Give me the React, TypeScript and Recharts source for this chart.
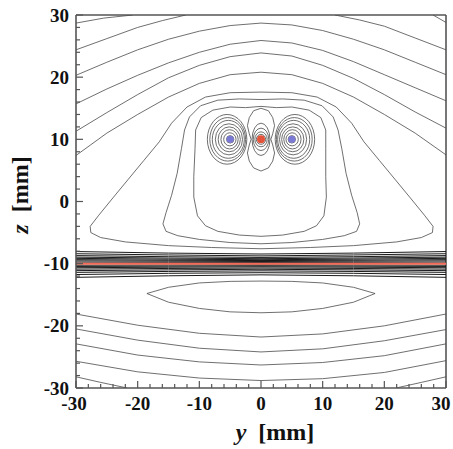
import React from 'react';
import { ComposedChart, Line, Scatter, XAxis, YAxis, ReferenceLine } from 'recharts';

type Pt = [number, number];

// axis ticks (mm), majors every 10 get labels
const axisTicks = [-30, -28, -26, -24, -22, -20, -18, -16, -14, -12, -10, -8, -6, -4, -2, 0,
  2, 4, 6, 8, 10, 12, 14, 16, 18, 20, 22, 24, 26, 28, 30];

// contours above the wires
const topLeft1: Pt[] = [[-30, 28.7], [-25.5, 29.5], [-20.8, 30]];
const topLeft2: Pt[] = [[-30, 24.4], [-25, 26.2], [-20, 28.0], [-16, 29.1], [-12.2, 30]];
const topRight2: Pt[] = [[12, 30], [16, 29.2], [20, 28.2], [25, 26.3], [30, 24.4]];
const topRight1: Pt[] = [[27.9, 30], [30, 28.8]];
const arch3: Pt[] = [[-30, 20.3], [-25, 22.4], [-20, 24.4], [-15, 26.1], [-10, 27.4], [-5, 28.3], [0, 28.7],
  [5, 28.4], [10, 27.5], [15, 26.1], [20, 24.4], [25, 22.4], [30, 20.4]];
const arch4: Pt[] = [[-30, 15.7], [-25, 18.1], [-20, 20.3], [-15, 22.3], [-10, 24.0], [-5, 25.3], [0, 25.9],
  [5, 25.5], [10, 24.3], [15, 22.5], [20, 20.4], [25, 18.3], [30, 16.2]];
const arch5: Pt[] = [[-30, 11.3], [-25, 14.3], [-20, 17.2], [-15, 19.9], [-10, 21.9], [-5, 23.3], [0, 23.9],
  [5, 23.4], [10, 21.9], [15, 19.8], [20, 17.2], [25, 14.4], [30, 11.8]];
const arch6: Pt[] = [[-30, 7.4], [-25, 11.0], [-20, 14.0], [-15, 16.8], [-10, 19.0], [-5, 20.4], [0, 20.8],
  [5, 20.4], [10, 19.0], [15, 16.8], [20, 14.0], [25, 11.0], [30, 7.5]];

// bell shaped loops round the three wires
const bellOuter: Pt[] = [[0, 17.6], [-5, 17.5], [-9, 16.8], [-12, 15.2], [-14.5, 12.6], [-16.5, 9.6], [-19, 6.6],
  [-21.5, 3.6], [-24, 0.6], [-26.3, -2.2], [-27.7, -4.0], [-27.6, -5.0], [-26, -5.8], [-22, -6.5], [-15, -7.1],
  [-8, -7.4], [0, -7.6], [8, -7.4], [15, -7.1], [22, -6.5], [26, -5.8], [27.8, -5.0], [27.9, -4.0], [26.5, -2.2],
  [24.2, 0.6], [21.7, 3.6], [19.2, 6.6], [16.7, 9.6], [14.7, 12.6], [12.2, 15.2], [9.1, 16.8], [5, 17.5], [0, 17.6]];
const bellMiddle: Pt[] = [[0, 16.4], [-3.5, 16.5], [-7, 16.3], [-9.8, 15.4], [-11.6, 13.6], [-12.4, 11.5],
  [-12.9, 8.5], [-13.6, 4.5], [-14.5, 1.0], [-15.4, -1.8], [-15.9, -3.6], [-15.4, -4.8], [-13.5, -5.5],
  [-10, -6.1], [-5, -6.6], [0, -6.8], [5, -6.6], [10, -6.1], [13.5, -5.5], [15.5, -4.8], [16, -3.6],
  [15.6, -1.8], [14.7, 1.0], [13.8, 4.5], [13.1, 8.5], [12.5, 11.5], [11.7, 13.6], [9.9, 15.4], [7, 16.3],
  [3.5, 16.5], [0, 16.4]];
const bellInner: Pt[] = [[0, 15.3], [-2.5, 15.1], [-5, 15.2], [-7.8, 14.7], [-9.7, 13.5], [-10.6, 11.5],
  [-10.7, 8.5], [-10.9, 4.0], [-10.9, 0.7], [-10.3, -2.3], [-9, -3.9], [-7, -4.8], [-3.5, -5.4], [0, -5.6],
  [3.5, -5.4], [7, -4.8], [9, -3.9], [10.2, -2.3], [10.6, 0.7], [10.5, 4.0], [10.5, 8.5], [10.5, 11.5],
  [9.7, 13.5], [7.8, 14.7], [5, 15.2], [2.5, 15.1], [0, 15.3]];
const redOval: Pt[] = [[0, 15.0], [1.2, 14.6], [1.9, 13.5], [2.2, 12.2], [1.9, 10.9], [1.6, 10], [1.9, 9.1],
  [2.2, 7.8], [1.9, 6.5], [1.2, 5.4], [0, 4.9], [-1.2, 5.4], [-1.9, 6.5], [-2.2, 7.8], [-1.9, 9.1], [-1.6, 10],
  [-1.9, 10.9], [-2.2, 12.2], [-1.9, 13.5], [-1.2, 14.6], [0, 15.0]];

// rings round the wires (mm)
const blueRingRx = [0.6, 1.0, 1.4, 1.8, 2.2, 2.6, 2.9, 3.2];
const blueRingRy = [0.6, 1.05, 1.55, 2.0, 2.5, 3.05, 3.5, 4.0];
const blueRingShift = [0, 0.05, 0.1, 0.15, 0.2, 0.3, 0.4, 0.5];
const redRingRx = [0.45, 0.75, 1.0, 1.25, 1.45];
const redRingRy = [0.45, 0.8, 1.2, 1.8, 2.6];

// dense band round the plate at z = -10
const bandY = [-30, -15, 0, 15, 30];
const bandZ: number[][] = [
  [-8.05, -8.3, -8.45, -8.3, -8.05],
  [-8.4, -8.6, -8.75, -8.6, -8.4],
  [-8.7, -8.88, -9.0, -8.88, -8.7],
  [-8.95, -9.1, -9.2, -9.1, -8.95],
  [-9.15, -9.28, -9.36, -9.28, -9.15],
  [-9.35, -9.45, -9.5, -9.45, -9.35],
  [-9.55, -9.6, -9.65, -9.6, -9.55],
  [-9.75, -9.78, -9.8, -9.78, -9.75],
  [-10.25, -10.22, -10.2, -10.22, -10.25],
  [-10.45, -10.4, -10.35, -10.4, -10.45],
  [-10.65, -10.57, -10.5, -10.57, -10.65],
  [-10.88, -10.77, -10.7, -10.77, -10.88],
  [-11.12, -11.0, -10.9, -11.0, -11.12],
  [-11.4, -11.25, -11.15, -11.25, -11.4],
  [-11.75, -11.55, -11.45, -11.55, -11.75],
  [-12.2, -11.95, -11.8, -11.95, -12.2],
];
const plate: Pt[] = [[-30, -10], [30, -10]];

// contours below the plate
const lens: Pt[] = [[-18.5, -14.8], [-15, -13.8], [-10, -13.1], [-5, -12.85], [0, -12.8], [5, -12.85],
  [10, -13.1], [15, -13.8], [18.5, -14.8], [15, -16.2], [10, -17.2], [5, -17.75], [0, -17.9], [-5, -17.75],
  [-10, -17.2], [-15, -16.2], [-18.5, -14.8]];
const low1: Pt[] = [[-30, -18.1], [-20, -19.9], [-10, -21.2], [0, -21.8], [10, -21.3], [20, -20.0], [30, -18.1]];
const low2: Pt[] = [[-30, -20.5], [-20, -22.3], [-10, -23.6], [0, -24.2], [10, -23.7], [20, -22.4], [30, -20.6]];
const low3: Pt[] = [[-30, -22.9], [-20, -24.7], [-10, -25.8], [0, -26.3], [10, -25.9], [20, -24.8], [30, -22.9]];
const low4: Pt[] = [[-30, -25.7], [-20, -27.4], [-10, -28.4], [0, -28.8], [10, -28.5], [20, -27.5], [30, -25.6]];
const low5L: Pt[] = [[-30, -28.2], [-26, -29.1], [-21.7, -30]];
const low5R: Pt[] = [[21.9, -30], [26, -29.1], [30, -28.2]];

const blueWires = [{ y: -5, z: 10 }, { y: 5, z: 10 }];
const redWire = [{ y: 0, z: 10 }];

const W = 453;
const H = 449;
const PLOT_W = 370;
const PLOT_H = 373;
const PX_X = PLOT_W / 60;
const PX_Y = PLOT_H / 60;
const LINE = '#4a4a4a';
const AXIS = '#555555';
const FONT = 'Liberation Serif';

const rows = (pts: Pt[]) => pts.map(([y, z]) => ({ y, z }));

const contours: Pt[][] = [topLeft1, topLeft2, topRight2, topRight1, arch3, arch4, arch5, arch6,
  bellOuter, bellMiddle, bellInner, redOval, lens, low1, low2, low3, low4, low5L, low5R];
const bandRows = bandZ.map(zs => zs.map((z, i) => ({ y: bandY[i], z })));

const rings = [
  ...blueRingRx.map((rx, i) => ({ y: -5 - blueRingShift[i], z: 10, rx, ry: blueRingRy[i] })),
  ...blueRingRx.map((rx, i) => ({ y: 5 + blueRingShift[i], z: 10, rx, ry: blueRingRy[i] })),
  ...redRingRx.map((rx, i) => ({ y: 0, z: 10, rx, ry: redRingRy[i] })),
];

const Ring = (props: any) => {
  const { cx, cy, payload } = props;
  return <ellipse cx={cx} cy={cy} rx={payload.rx * PX_X} ry={payload.ry * PX_Y} fill="none" stroke={LINE} strokeWidth={0.8} />;
};

const dotShape = (color: string, r: number) => (props: any) =>
  <circle cx={props.cx} cy={props.cy} r={r} fill={color} />;

const XTick = (props: any) => {
  const { x, y, payload } = props;
  const v = payload.value;
  const major = v % 10 === 0;
  // last label sits against the page edge, as in the original
  const nudge = v === 30 ? -5 : v === -30 ? -2 : 0;
  return (
    <g>
      <line x1={x} x2={x} y1={y} y2={y - (major ? 7 : 4)} stroke={AXIS} strokeWidth={1.2} />
      {major && (
        <text x={x + nudge} y={y + 22} textAnchor="middle" style={{ fontFamily: FONT, fontWeight: 700, fontSize: 19 }} fill="#111">{v}</text>
      )}
    </g>
  );
};

const YTick = (props: any) => {
  const { x, y, payload } = props;
  const v = payload.value;
  const major = v % 10 === 0;
  return (
    <g>
      <line x1={x} x2={x + (major ? 7 : 4)} y1={y} y2={y} stroke={AXIS} strokeWidth={1.2} />
      {major && (
        <text x={x - 7} y={y + 6.5} textAnchor="end" style={{ fontFamily: FONT, fontWeight: 700, fontSize: 19 }} fill="#111">{v}</text>
      )}
    </g>
  );
};

export default function App() {
  return (
    <div style={{ position: 'absolute', left: 0, top: 0, width: W, height: H, background: '#fff' }}>
      <ComposedChart width={W} height={H} margin={{ top: 15, right: 7, left: 16, bottom: 31 }}>
        <XAxis type="number" dataKey="y" domain={[-30, 30]} ticks={axisTicks} allowDataOverflow
          height={30} tickSize={0} tickMargin={0} tick={<XTick />} tickLine={false}
          axisLine={{ stroke: AXIS, strokeWidth: 1.6 }} interval={0} />
        <YAxis type="number" dataKey="z" domain={[-30, 30]} ticks={axisTicks} allowDataOverflow
          width={60} tickSize={0} tickMargin={0} tick={<YTick />} tickLine={false}
          axisLine={{ stroke: AXIS, strokeWidth: 1.6 }} interval={0} />
        <ReferenceLine y={30} stroke={AXIS} strokeWidth={1.6} />
        <ReferenceLine x={30} stroke={AXIS} strokeWidth={1.6} />
        {contours.map((c, i) => (
          <Line key={`c-${i}`} data={rows(c)} dataKey="z" type="linear" stroke={LINE} strokeWidth={0.8}
            dot={false} activeDot={false} isAnimationActive={false} />
        ))}
        {bandRows.map((d, i) => (
          <Line key={`b-${i}`} data={d} dataKey="z" type="linear" stroke="#1a1a1a" strokeWidth={1}
            dot={false} activeDot={false} isAnimationActive={false} />
        ))}
        <Line data={rows(plate)} dataKey="z" type="linear" stroke="#f26a55" strokeWidth={2}
          dot={false} activeDot={false} isAnimationActive={false} />
        <Scatter data={rings} dataKey="z" shape={Ring} isAnimationActive={false} />
        <Scatter data={blueWires} dataKey="z" shape={dotShape('#7a7ad6', 3.6)} isAnimationActive={false} />
        <Scatter data={redWire} dataKey="z" shape={dotShape('#e4533a', 4)} isAnimationActive={false} />
      </ComposedChart>
      <div style={{ position: 'absolute', left: 275, top: 420, transform: 'translateX(-50%)', whiteSpace: 'nowrap',
        fontFamily: FONT, fontWeight: 700, fontSize: 24, lineHeight: '24px', color: '#111' }}>
        <i>y</i>&nbsp;&nbsp;[mm]
      </div>
      <div style={{ position: 'absolute', left: 20, top: 195, transform: 'translate(-50%, -50%) rotate(-90deg)',
        whiteSpace: 'nowrap', fontFamily: FONT, fontWeight: 700, fontSize: 24, lineHeight: '24px', color: '#111' }}>
        <i>z</i>&nbsp;&nbsp;[mm]
      </div>
    </div>
  );
}
